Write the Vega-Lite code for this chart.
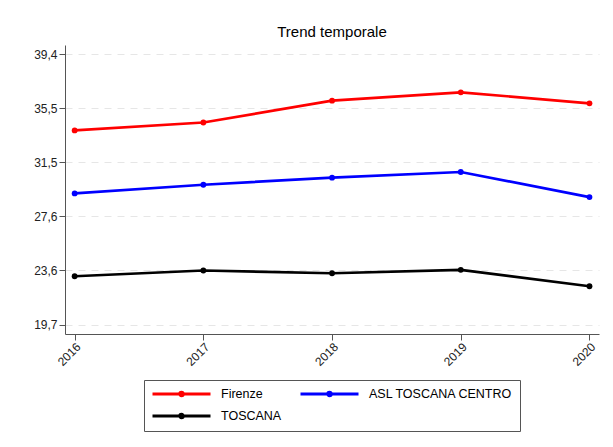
{
  "$schema": "https://vega.github.io/schema/vega-lite/v6.json",
  "autosize": {"type": "none"},
  "width": 534,
  "height": 289,
  "padding": {"left": 65, "top": 45, "right": 14, "bottom": 113},
  "background": "white",
  "config": {
    "font": "Liberation Sans",
    "view": {"stroke": null},
    "axis": {"labelFont": "Liberation Sans", "labelColor": "#222", "domainColor": "#555", "tickColor": "#555"}
  },
  "title": {"text": "Trend temporale", "fontSize": 15, "fontWeight": "normal", "color": "#000", "anchor": "middle", "offset": 5, "font": "Liberation Sans"},
  "data": {
    "values": [
      {"year": 2016, "series": "Firenze", "value": 33.85},
      {"year": 2017, "series": "Firenze", "value": 34.43},
      {"year": 2018, "series": "Firenze", "value": 36.02},
      {"year": 2019, "series": "Firenze", "value": 36.63},
      {"year": 2020, "series": "Firenze", "value": 35.83},
      {"year": 2016, "series": "ASL TOSCANA CENTRO", "value": 29.26},
      {"year": 2017, "series": "ASL TOSCANA CENTRO", "value": 29.89},
      {"year": 2018, "series": "ASL TOSCANA CENTRO", "value": 30.41},
      {"year": 2019, "series": "ASL TOSCANA CENTRO", "value": 30.82},
      {"year": 2020, "series": "ASL TOSCANA CENTRO", "value": 28.99},
      {"year": 2016, "series": "TOSCANA", "value": 23.22},
      {"year": 2017, "series": "TOSCANA", "value": 23.64},
      {"year": 2018, "series": "TOSCANA", "value": 23.44},
      {"year": 2019, "series": "TOSCANA", "value": 23.69},
      {"year": 2020, "series": "TOSCANA", "value": 22.49}
    ]
  },
  "mark": {"type": "line", "strokeWidth": 2.7, "point": {"filled": true, "size": 34}},
  "encoding": {
    "x": {
      "field": "year", "type": "quantitative",
      "scale": {"domain": [2015.925, 2020.074], "nice": false, "zero": false},
      "axis": {"values": [2016, 2017, 2018, 2019, 2020], "format": "d", "labelAngle": -45, "labelFontSize": 12, "tickSize": 6, "labelPadding": 1, "grid": false, "title": null}
    },
    "y": {
      "field": "value", "type": "quantitative",
      "scale": {"domain": [19.01, 40.08], "nice": false, "zero": false},
      "axis": {
        "values": [19.7, 23.64, 27.58, 31.52, 35.46, 39.4],
        "labelExpr": "replace(format(datum.value, '.1f'), '.', ',')",
        "labelFontSize": 12, "tickSize": 6, "labelPadding": 2, "title": null,
        "grid": true, "gridColor": "#e6e6e6", "gridDash": [7, 6], "gridWidth": 1
      }
    },
    "color": {
      "field": "series", "type": "nominal",
      "scale": {"domain": ["Firenze", "ASL TOSCANA CENTRO", "TOSCANA"], "range": ["#ff0000", "#0000ff", "#000000"]},
      "legend": {
        "title": null,
        "orient": "none",
        "legendX": 79,
        "legendY": 335,
        "direction": "horizontal",
        "columns": 2,
        "symbolType": "M-1,0L10.6,0M4.45,0A0.35,0.35,0,1,0,5.15,0A0.35,0.35,0,1,0,4.45,0Z",
        "symbolSize": 100,
        "symbolStrokeWidth": 3,
        "labelFontSize": 12.5,
        "labelColor": "#000",
        "labelOffset": 57,
        "columnPadding": 12,
        "rowPadding": 5.5,
        "padding": 7,
        "strokeColor": "#555",
        "fillColor": "white",
        "encode": {"symbols": {"update": {"fill": {"scale": "color", "field": "value"}}}}
      }
    }
  }
}
